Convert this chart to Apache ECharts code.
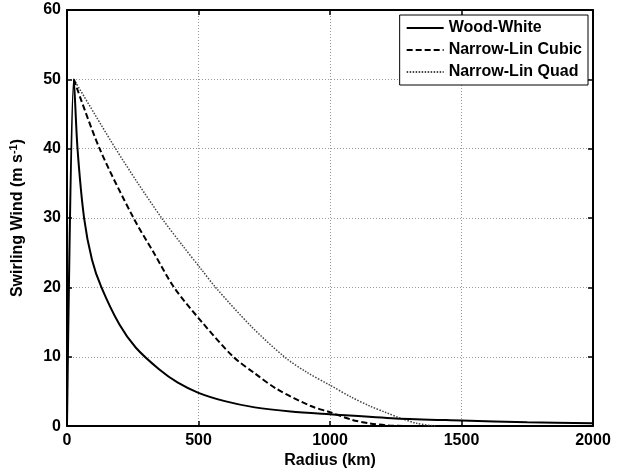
<!DOCTYPE html>
<html>
<head>
<meta charset="utf-8">
<script src="https://cdn.jsdelivr.net/npm/echarts@6/dist/echarts.min.js"></script>
<style>
html,body{margin:0;padding:0;background:#fff;}
#c{width:623px;height:474px;}
</style>
</head>
<body>
<div id="c"></div>
<script>
// Data
const seriesNames = ['Wood-White', 'Narrow-Lin Cubic', 'Narrow-Lin Quad'];
const woodWhite = [[0,0],[26,50],[40,40],[65,30],[95,24],[131,20],[200,14.6],[262,11.3],[350,8.2],[420,6.3],[500,4.8],[600,3.6],[714,2.7],[850,2.1],[1000,1.7],[1250,1.1],[1500,0.8],[1750,0.55],[2000,0.4]];
const linCubic = [[26,50],[124,40],[253,30],[330,25],[407,20],[513,15],[632,10],[714,7.6],[800,5.3],[927,2.9],[1000,2.0],[1084,0.9],[1150,0.4],[1220,0.1],[1300,0]];
const linQuad = [[26,50],[105,45],[185,40],[270,35],[360,30],[440,26],[513,22.5],[565,20],[700,14.4],[826,10],[910,7.8],[1000,5.9],[1080,4.2],[1151,2.9],[1210,2.0],[1271,1.1],[1330,0.4],[1400,0]];
const xTicks = [0,500,1000,1500,2000];
const yTicks = [0,10,20,30,40,50,60];

const font = 'Liberation Sans, Arial, sans-serif';
const gridLine = {show:true, lineStyle:{color:'#999', width:1, type:[1,2]}};
const axisLine = {show:true, onZero:false, lineStyle:{color:'#000', width:2}};
const tick = {show:true, inside:true, length:5, lineStyle:{color:'#000', width:1.5}};
const plain = v => String(v);

const chart = echarts.init(document.getElementById('c'));
chart.setOption({
  animation:false,
  backgroundColor:'#fff',
  grid:{left:61, right:30, top:10, bottom:44},
  legend:{
    orient:'vertical', right:35, top:15,
    data: seriesNames,
    itemWidth:37, itemHeight:14, itemGap:6,
    itemStyle:{color:'rgba(0,0,0,0)', borderWidth:0, opacity:0},
    backgroundColor:'#fff', borderColor:'#000', borderWidth:1,
    padding:[5,6,5,6],
    textStyle:{fontFamily:font, fontWeight:'bold', fontSize:16, color:'#000'}
  },
  xAxis:[{
    type:'value', min:xTicks[0], max:xTicks[xTicks.length-1], interval:500,
    name:'Radius (km)', nameLocation:'middle', nameGap:24,
    nameTextStyle:{fontFamily:font, fontWeight:'bold', fontSize:16, color:'#000'},
    axisLine:axisLine, axisTick:tick, splitLine:gridLine,
    axisLabel:{fontFamily:font, fontWeight:'bold', fontSize:16, color:'#000', margin:6, formatter:plain}
  },{
    type:'value', position:'top', min:0, max:2000, interval:500,
    axisLine:axisLine, axisTick:tick, axisLabel:{show:false}, splitLine:{show:false}
  }],
  yAxis:[{
    type:'value', min:yTicks[0], max:yTicks[yTicks.length-1], interval:10,
    name:'Swirling Wind (m s{sup|-1})', nameLocation:'middle', nameGap:40,
    nameTextStyle:{fontFamily:font, fontWeight:'bold', fontSize:16, color:'#000',
      rich:{sup:{fontFamily:font, fontWeight:'bold', fontSize:11, color:'#000', verticalAlign:'top', padding:[0,0,8,0]}}},
    axisLine:axisLine, axisTick:tick, splitLine:gridLine,
    axisLabel:{fontFamily:font, fontWeight:'bold', fontSize:16, color:'#000', margin:6, formatter:plain}
  },{
    type:'value', position:'right', min:0, max:60, interval:10,
    axisLine:axisLine, axisTick:tick, axisLabel:{show:false}, splitLine:{show:false}
  }],
  series:[
    {name:seriesNames[0], type:'line', data:woodWhite, smooth:0.3, symbol:'none',
     lineStyle:{color:'#000', width:2, type:'solid'}, itemStyle:{color:'#000'}, z:5},
    {name:seriesNames[1], type:'line', data:linCubic, smooth:0.3, symbol:'none',
     lineStyle:{color:'#000', width:2, type:[6,3]}, itemStyle:{color:'#000'}, z:4},
    {name:seriesNames[2], type:'line', data:linQuad, smooth:0.3, symbol:'none',
     lineStyle:{color:'#444', width:1.5, type:[1.5,1.5]}, itemStyle:{color:'#444'}, z:3}
  ]
});
</script>
</body>
</html>
